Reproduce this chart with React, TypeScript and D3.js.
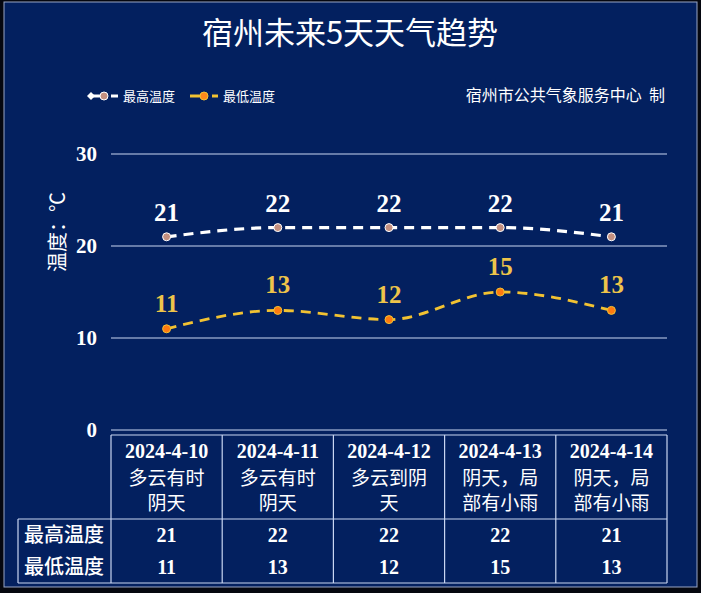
import React from "react";
import * as d3 from "d3";

const dates = ["2024-4-10", "2024-4-11", "2024-4-12", "2024-4-13", "2024-4-14"];
const weather1 = ["多云有时", "多云有时", "多云到阴", "阴天，局", "阴天，局"];
const weather2 = ["阴天", "阴天", "天", "部有小雨", "部有小雨"];
const highTemps = [21, 22, 22, 22, 21];
const lowTemps = [11, 13, 12, 15, 13];
const yTicks = [0, 10, 20, 30];
const seriesNames = ["最高温度", "最低温度"];

const W = 701;
const H = 593;
const BG = "#03205f";
const GRID = "#c9d6f2";
const HIGH = "#ffffff";
const LOW = "#f2c232";
const LABEL_LOW = "#eec44a";
const SERIF = "'Liberation Serif', 'Times New Roman', 'Noto Sans CJK SC', serif";
const SANS = "'Noto Sans CJK SC', 'Noto Sans', sans-serif";

export default function App() {
  const x = d3.scaleBand<string>().domain(dates).range([111, 667]).padding(0);
  const y = d3.scaleLinear().domain([0, 30]).range([430, 154]);
  const cx = (i: number) => (x(dates[i]) as number) + x.bandwidth() / 2;

  const line = d3
    .line<number>()
    .x((_, i) => cx(i))
    .y((d) => y(d))
    .curve(d3.curveMonotoneX);

  const tableTop = 435;
  const rowSplit = 519;
  const tableBottom = 583;
  const tableLeft = 18;
  const colEdges = dates.map((d) => x(d) as number).concat([667]);

  return (
    <svg
      width={W}
      height={H}
      style={{ position: "fixed", left: 0, top: 0, display: "block" }}
    >
      <rect x={0} y={0} width={W} height={H} fill="#05070f" />
      <rect x={4} y={2} width={693} height={585} fill={BG} stroke="#9aa6c6" strokeWidth={1} />

      <text x={350} y={44} textAnchor="middle" fill="#fff" fontFamily={SANS} fontSize={31}>
        宿州未来5天天气趋势
      </text>

      {/* legend */}
      <g>
        <line x1={90} x2={101} y1={96} y2={96} stroke={HIGH} strokeWidth={3} />
        <path d="M87,96 L91,92 L95,96 L91,100 Z" fill={HIGH} />
        <circle cx={104} cy={96} r={4} fill="#c49080" stroke="#fff" strokeWidth={1} />
        <line x1={111} x2={118} y1={96} y2={96} stroke={HIGH} strokeWidth={3} />
        <text x={123} y={101} fill="#fff" fontFamily={SANS} fontSize={13}>
          {seriesNames[0]}
        </text>
        <line x1={190} x2={202} y1={96} y2={96} stroke={LOW} strokeWidth={3} />
        <circle cx={204} cy={96} r={4} fill="#ff8a1c" stroke={LOW} strokeWidth={1} />
        <line x1={212} x2={218} y1={96} y2={96} stroke={LOW} strokeWidth={3} />
        <text x={223} y={101} fill="#fff" fontFamily={SANS} fontSize={13}>
          {seriesNames[1]}
        </text>
      </g>
      <text x={665} y={101} textAnchor="end" fill="#fff" fontFamily={SANS} fontSize={16}>
        {"宿州市公共气象服务中心\u00a0\u00a0制"}
      </text>

      {/* grid & y ticks */}
      {yTicks.map((t) => (
        <g key={t}>
          <line x1={111} x2={667} y1={y(t)} y2={y(t)} stroke={GRID} strokeWidth={1.2} />
          <text
            x={97}
            y={y(t)}
            dy="0.35em"
            textAnchor="end"
            fill="#fff"
            fontFamily={SERIF}
            fontWeight="bold"
            fontSize={21}
          >
            {t}
          </text>
        </g>
      ))}
      <text
        transform="translate(58,232) rotate(-90)"
        textAnchor="middle"
        dy="0.35em"
        fill="#fff"
        fontFamily={SERIF}
        fontSize={20}
      >
        温度：℃
      </text>

      {/* lines */}
      <path
        d={line(highTemps) || ""}
        fill="none"
        stroke={HIGH}
        strokeWidth={3.2}
        strokeDasharray="10,7"
      />
      <path
        d={line(lowTemps) || ""}
        fill="none"
        stroke={LOW}
        strokeWidth={2.8}
        strokeDasharray="10,7"
      />
      {highTemps.map((v, i) => (
        <g key={"h" + i}>
          <circle cx={cx(i)} cy={y(v)} r={4} fill="#c49080" stroke="#fff" strokeWidth={1} />
          <text
            x={cx(i)}
            y={y(v) - 16}
            textAnchor="middle"
            fill="#fff"
            fontFamily={SERIF}
            fontWeight="bold"
            fontSize={25}
          >
            {v}
          </text>
        </g>
      ))}
      {lowTemps.map((v, i) => (
        <g key={"l" + i}>
          <circle cx={cx(i)} cy={y(v)} r={4} fill="#ff7a10" stroke={LOW} strokeWidth={1} />
          <text
            x={cx(i)}
            y={y(v) - 17}
            textAnchor="middle"
            fill={LABEL_LOW}
            fontFamily={SERIF}
            fontWeight="bold"
            fontSize={25}
          >
            {v}
          </text>
        </g>
      ))}

      {/* table */}
      <g stroke={GRID} strokeWidth={1.2} fill="none">
        <line x1={111} x2={667} y1={tableTop} y2={tableTop} />
        <line x1={tableLeft} x2={667} y1={rowSplit} y2={rowSplit} />
        <line x1={tableLeft} x2={667} y1={tableBottom} y2={tableBottom} />
        <line x1={tableLeft} x2={tableLeft} y1={rowSplit} y2={tableBottom} />
        {colEdges.map((e, i) => (
          <line key={i} x1={e} x2={e} y1={tableTop} y2={tableBottom} />
        ))}
      </g>
      {dates.map((d, i) => (
        <g key={d} fill="#fff" fontWeight="bold" textAnchor="middle">
          <text x={cx(i)} y={451} dy="0.35em" fontFamily={SERIF} fontSize={20}>
            {d}
          </text>
          <text x={cx(i)} y={478} dy="0.35em" fontFamily={SERIF} fontSize={19} fontWeight="normal">
            {weather1[i]}
          </text>
          <text x={cx(i)} y={503} dy="0.35em" fontFamily={SERIF} fontSize={19} fontWeight="normal">
            {weather2[i]}
          </text>
          <text x={cx(i)} y={535} dy="0.35em" fontFamily={SERIF} fontSize={20}>
            {highTemps[i]}
          </text>
          <text x={cx(i)} y={567} dy="0.35em" fontFamily={SERIF} fontSize={20}>
            {lowTemps[i]}
          </text>
        </g>
      ))}
      <text x={64} y={535} dy="0.35em" textAnchor="middle" fill="#fff" fontFamily={SERIF} fontSize={20} fontWeight="500">
        {seriesNames[0]}
      </text>
      <text x={64} y={567} dy="0.35em" textAnchor="middle" fill="#fff" fontFamily={SERIF} fontSize={20} fontWeight="500">
        {seriesNames[1]}
      </text>
    </svg>
  );
}
